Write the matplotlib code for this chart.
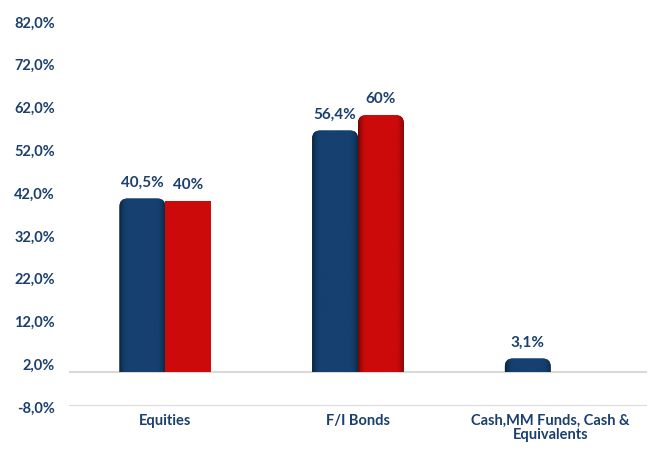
import numpy as np
import matplotlib
matplotlib.use("Agg")
import matplotlib.pyplot as plt
from matplotlib.patches import FancyBboxPatch, Rectangle
from matplotlib.colors import to_rgb

categories = ["Equities", "F/I Bonds", "Cash,MM Funds, Cash &\nEquivalents"]
portfolio = [40.5, 56.4, 3.1]
benchmark = [40.0, 60.0, np.nan]
portfolio_labels = ["40,5%", "56,4%", "3,1%"]
benchmark_labels = ["40%", "60%", ""]
rounded_benchmark = [False, True, False]
yticks = np.arange(-8, 83, 10)

BLUE = "#15406f"
RED = "#cc0a0a"
TEXT = "#1b3f6e"

plt.rcParams["font.family"] = ["Lato", "DejaVu Sans"]

fig = plt.figure(figsize=(6.72, 4.6), dpi=100)
ax = fig.add_axes([69 / 672, 1 - 407 / 460, 578 / 672, (407 - 22) / 460])
ax.set_xlim(-0.5, 2.5)
ax.set_ylim(-8, 82)

x = np.arange(len(categories))
w = 0.238
b1 = ax.bar(x - w / 2, portfolio, w, color=BLUE)
b2 = ax.bar(x + w / 2, benchmark, w, color=RED)

# px -> data scale for rounded corners
xpp = 3.0 / 578
ypp = 90.0 / 385
rad_px = 8


def shade(ax, x0, y0, bw, bh, color, clip):
    # darker edges, like a cylinder
    c = np.array(to_rgb(color))
    t = np.linspace(0, 1, 60)
    prof = 1 - 0.45 * np.clip(1 - t / 0.18, 0, 1) ** 2 - 0.35 * np.clip((t - 0.82) / 0.18, 0, 1) ** 2
    img = (c[None, :] * prof[:, None])[None, :, :]
    im = ax.imshow(img, extent=[x0, x0 + bw, y0, y0 + bh], aspect="auto",
                   interpolation="bilinear", zorder=3)
    im.set_clip_path(clip)


for bars, col, rnd in [(b1, BLUE, [True, True, True]), (b2, RED, rounded_benchmark)]:
    for bar, r in zip(bars, rnd):
        h = bar.get_height()
        if np.isnan(h) or h == 0:
            continue
        x0, bw = bar.get_x(), bar.get_width()
        bar.set_visible(False)
        if r:
            rs = rad_px * xpp
            p = FancyBboxPatch((x0, -5), bw, h + 5,
                               boxstyle=f"round,pad=0,rounding_size={rs}",
                               mutation_aspect=ypp / xpp,
                               facecolor=col, edgecolor="none", zorder=2)
            ax.add_patch(p)
            cliprect = Rectangle((x0 - 1, 0), bw + 2, 100, transform=ax.transData)
            p.set_clip_path(cliprect)
            shade(ax, x0, 0, bw, h, col, p)
        else:
            p = Rectangle((x0, 0), bw, h, facecolor=col, edgecolor="none", zorder=2)
            ax.add_patch(p)

for bar, lab in zip(b1, portfolio_labels):
    ax.annotate(lab, (bar.get_x() + bar.get_width() / 2, bar.get_height()),
                xytext=(0, 7), textcoords="offset points", ha="center", va="bottom",
                fontsize=11, fontweight="bold", color=TEXT)
for bar, lab in zip(b2, benchmark_labels):
    if lab:
        ax.annotate(lab, (bar.get_x() + bar.get_width() / 2, bar.get_height()),
                    xytext=(0, 7), textcoords="offset points", ha="center", va="bottom",
                    fontsize=11, fontweight="bold", color=TEXT)

ax.axhline(0, color="#d9d9d9", lw=1.5, zorder=1)
ax.axhline(-8, color="#d9d9d9", lw=1.5, zorder=1)

ax.set_yticks(yticks)
ax.set_yticklabels([f"{v:.1f}%".replace(".", ",") for v in yticks])
ax.set_xticks(x)
ax.set_xticklabels(categories, linespacing=1.0)
ax.tick_params(axis="both", length=0, labelsize=10.5, labelcolor=TEXT)
ax.tick_params(axis="y", pad=10)
ax.tick_params(axis="x", pad=5)
for lab in ax.get_xticklabels() + ax.get_yticklabels():
    lab.set_fontweight("bold")
for s in ax.spines.values():
    s.set_visible(False)

fig.savefig("out.png", dpi=100)
